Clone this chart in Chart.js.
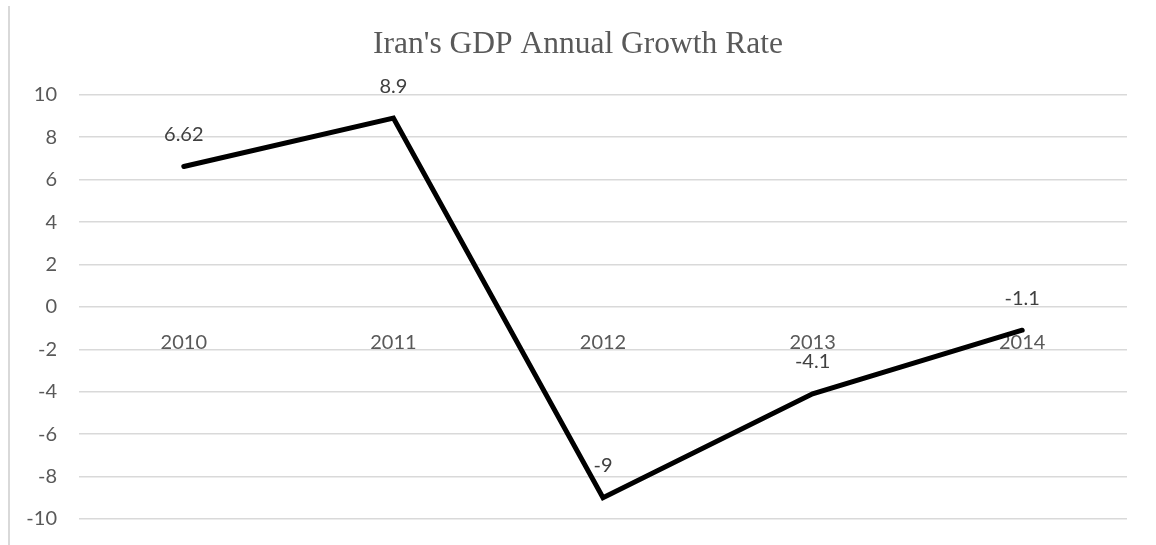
<!DOCTYPE html>
<html>
<head>
<meta charset="utf-8">
<script src="https://cdn.jsdelivr.net/npm/chart.js@4"></script>
<style>
  html, body { margin: 0; padding: 0; background: #fff; }
  #wrap { position: relative; width: 1156px; height: 545px; }
  #edge { position: absolute; left: 8px; top: 6px; width: 2px; height: 539px; background: #d9d9d9; }
  canvas { position: absolute; left: 0; top: 0; }
</style>
</head>
<body>
<div id="wrap">
  <div id="edge"></div>
  <canvas id="gdp_chart" width="1156" height="545"></canvas>
</div>
<script>
// DATA
const years = ['2010', '2011', '2012', '2013', '2014'];
const growth_rate = [6.62, 8.9, -9, -4.1, -1.1];
const y_min = -10, y_max = 10, y_step = 2;

const label_font = { family: 'Lato, "Open Sans", sans-serif', size: 20 };

// draws the value above each point
const valueLabels = {
  id: 'valueLabels',
  afterDatasetsDraw(chart) {
    const ctx = chart.ctx;
    const meta = chart.getDatasetMeta(0);
    ctx.save();
    ctx.font = `${label_font.size}px ${label_font.family}`;
    ctx.fillStyle = '#404040';
    ctx.textAlign = 'center';
    ctx.textBaseline = 'middle';
    meta.data.forEach((pt, i) => {
      ctx.fillText(String(growth_rate[i]), pt.x, pt.y - 32);
    });
    ctx.restore();
  }
};

const ctx = document.getElementById('gdp_chart').getContext('2d');
new Chart(ctx, {
  type: 'line',
  data: {
    labels: years,
    datasets: [{
      label: 'GDP growth',
      data: growth_rate,
      borderColor: '#000',
      backgroundColor: '#000',
      borderWidth: 5,
      borderJoinStyle: 'miter',
      borderCapStyle: 'round',
      pointRadius: 0,
      tension: 0,
      fill: false
    }]
  },
  options: {
    responsive: false,
    animation: false,
    layout: { padding: { left: 0, right: 0, top: 0, bottom: 26 } },
    plugins: {
      legend: { display: false },
      tooltip: { enabled: false },
      title: {
        display: true,
        text: "Iran's GDP Annual Growth Rate",
        color: '#595959',
        font: { family: '"Liberation Serif", "DejaVu Serif", serif', size: 31.5, weight: 'normal', lineHeight: 1.2 },
        padding: { top: 26, bottom: 31 }
      }
    },
    scales: {
      x: {
        type: 'category',
        offset: true,
        position: { y: 0 },
        grid: { display: false, drawTicks: false },
        border: { display: false },
        ticks: { color: '#595959', font: label_font, padding: 24, maxRotation: 0 }
      },
      y: {
        min: y_min,
        max: y_max,
        grid: { color: '#d9d9d9', lineWidth: 1.5, drawTicks: true, tickLength: 8, tickColor: 'rgba(0,0,0,0)' },
        border: { display: false },
        ticks: { stepSize: y_step, color: '#595959', font: label_font, padding: 14 },
        afterFit(scale) { scale.width = 79; }
      },
      // empty spacer on the right side of the plot
      yRight: {
        position: 'right',
        grid: { display: false, drawTicks: false },
        border: { display: false },
        ticks: { display: false },
        afterFit(scale) { scale.width = 29; }
      }
    }
  },
  plugins: [valueLabels]
});
</script>
</body>
</html>
